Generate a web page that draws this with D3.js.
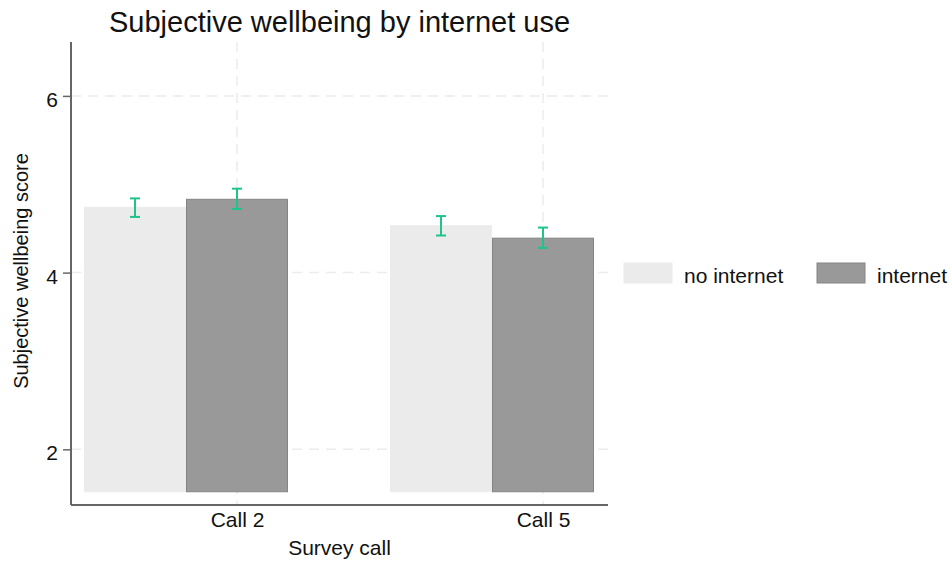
<!DOCTYPE html>
<html>
<head>
<meta charset="utf-8">
<script src="https://cdn.jsdelivr.net/npm/d3@7/dist/d3.min.js"></script>
<style>
  html, body { margin: 0; padding: 0; background: #fff; }
  svg { display: block; font-family: "Liberation Sans", Arial, Helvetica, sans-serif; }
</style>
</head>
<body>
<svg id="chart" width="952" height="565"></svg>
<script>
// ---- data ----
const categories = ["Call 2", "Call 5"];
const seriesNames = ["no internet", "internet"];
const noInternet = [4.74, 4.53];
const internet = [4.83, 4.39];
const noInternetLow = [4.63, 4.42];
const noInternetHigh = [4.84, 4.64];
const internetLow = [4.72, 4.28];
const internetHigh = [4.95, 4.51];
const yTicks = [2, 4, 6];
const yDomain = [1.37, 6.61];
const barBase = 1.52;
const titleText = "Subjective wellbeing by internet use";
const xTitle = "Survey call";
const yTitle = "Subjective wellbeing score";

// ---- layout ----
const svg = d3.select("#chart");
const mLeft = 71, mRight = 608, mTop = 42, mBottom = 505;
const colors = ["#ebebeb", "#999999"];
const strokes = ["#ebebeb", "#858585"];
const errColor = "#1fc48a";
const FS = 21;

const y = d3.scaleLinear().domain(yDomain).range([mBottom, mTop]);
const x0 = d3.scaleBand().domain(categories).range([mLeft + 13, mRight - 14]).paddingInner(1 / 3).paddingOuter(0);
const x1 = d3.scaleBand().domain(seriesNames).range([0, x0.bandwidth()]);
// category ticks sit at the centre of the second bar of each group
const xTick = d3.scaleOrdinal().domain(categories)
  .range(categories.map(c => x0(c) + x1(seriesNames[1]) + x1.bandwidth() / 2));

const rows = categories.map((c, i) => ({
  cat: c,
  vals: [
    { s: seriesNames[0], v: noInternet[i], lo: noInternetLow[i], hi: noInternetHigh[i] },
    { s: seriesNames[1], v: internet[i], lo: internetLow[i], hi: internetHigh[i] }
  ]
}));

// gridlines
const grid = svg.append("g");
grid.selectAll("line.h").data(yTicks).join("line")
  .attr("x1", mLeft).attr("x2", mRight)
  .attr("y1", d => y(d)).attr("y2", d => y(d))
  .attr("stroke", "#ececec").attr("stroke-width", 1.5).attr("stroke-dasharray", "10,7");
grid.selectAll("line.v").data(categories).join("line")
  .attr("x1", d => xTick(d)).attr("x2", d => xTick(d))
  .attr("y1", mTop).attr("y2", mBottom)
  .attr("stroke", "#ececec").attr("stroke-width", 1.5).attr("stroke-dasharray", "10,7");

// bars
const groups = svg.append("g").selectAll("g").data(rows).join("g")
  .attr("transform", d => `translate(${x0(d.cat)},0)`);
groups.selectAll("rect").data(d => d.vals).join("rect")
  .attr("x", d => x1(d.s) + 0.5)
  .attr("width", x1.bandwidth() - 1)
  .attr("y", d => y(d.v))
  .attr("height", d => y(barBase) - y(d.v))
  .attr("fill", (d, i) => colors[i])
  .attr("stroke", (d, i) => strokes[i])
  .attr("stroke-width", 1);

// error bars
const eb = groups.selectAll("g.eb").data(d => d.vals).join("g").attr("class", "eb")
  .attr("transform", d => `translate(${x1(d.s) + x1.bandwidth() / 2},0)`)
  .attr("stroke", errColor).attr("stroke-width", 2);
eb.append("line").attr("x1", 0).attr("x2", 0).attr("y1", d => y(d.lo)).attr("y2", d => y(d.hi));
eb.append("line").attr("x1", -5).attr("x2", 5).attr("y1", d => y(d.lo)).attr("y2", d => y(d.lo));
eb.append("line").attr("x1", -5).attr("x2", 5).attr("y1", d => y(d.hi)).attr("y2", d => y(d.hi));

// y axis
const yAxis = svg.append("g").attr("transform", `translate(${mLeft},0)`)
  .call(d3.axisLeft(y).tickValues(yTicks).tickSize(8).tickPadding(5).tickFormat(d3.format("d")));
yAxis.select(".domain").attr("d", `M0,${mTop}V${mBottom}`).attr("stroke", "#666").attr("stroke-width", 2);
yAxis.selectAll(".tick line").attr("stroke", "#666").attr("stroke-width", 1.5);
yAxis.selectAll(".tick text").attr("font-size", FS).attr("fill", "#111").attr("dy", "0.5em")
  .attr("font-family", "Liberation Sans, Arial, sans-serif");

// x axis
const xAxis = svg.append("g").attr("transform", `translate(0,${mBottom})`)
  .call(d3.axisBottom(xTick).tickSize(0).tickPadding(7));
xAxis.select(".domain").attr("d", `M${mLeft},0H${mRight}`).attr("stroke", "#666").attr("stroke-width", 2);
xAxis.selectAll(".tick text").attr("font-size", FS).attr("fill", "#111").attr("dy", "0.71em")
  .attr("font-family", "Liberation Sans, Arial, sans-serif");

// titles
svg.append("text").attr("x", (mLeft + mRight) / 2).attr("y", 32).attr("text-anchor", "middle")
  .attr("font-size", 29).attr("fill", "#111").text(titleText);
svg.append("text").attr("x", (mLeft + mRight) / 2).attr("y", 555).attr("text-anchor", "middle")
  .attr("font-size", FS).attr("fill", "#111").text(xTitle);
svg.append("text").attr("transform", `translate(28,271) rotate(-90)`)
  .attr("text-anchor", "middle").attr("font-size", 20).attr("fill", "#111").text(yTitle);

// legend
const legX = [624, 817];
const leg = svg.append("g").selectAll("g").data(seriesNames).join("g")
  .attr("transform", (d, i) => `translate(${legX[i]},263)`);
leg.append("rect").attr("width", 48).attr("height", 20)
  .attr("fill", (d, i) => colors[i]).attr("stroke", (d, i) => strokes[i]);
leg.append("text").attr("x", 60).attr("y", 20).attr("font-size", FS).attr("fill", "#111").text(d => d);
</script>
</body>
</html>
